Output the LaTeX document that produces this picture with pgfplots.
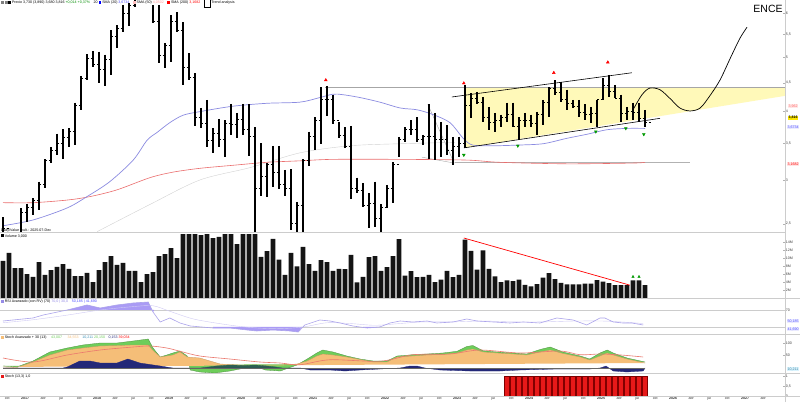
\documentclass[border=0pt]{standalone}
\usepackage{pgfplots}
\pgfplotsset{compat=1.18}
\usepackage{pgfplotstable}
\usepackage{fontspec}
\setmainfont{Liberation Sans}
\newcommand\tf{\fontsize{3.6}{4}\selectfont}
\definecolor{bandyellow}{RGB}{255,249,185}
\definecolor{maBlue}{RGB}{140,140,225}
\definecolor{maRed}{RGB}{235,110,110}
\definecolor{rsiLine}{RGB}{150,140,230}
\definecolor{rsiFill}{RGB}{170,155,245}
\definecolor{stGreen}{RGB}{110,205,90}
\definecolor{stOrange}{RGB}{245,190,120}
\definecolor{stNavy}{RGB}{35,40,120}
\definecolor{stTeal}{RGB}{45,95,80}
\definecolor{stRed}{RGB}{235,120,110}
\definecolor{sigRed}{RGB}{230,25,25}
\pgfdeclareplotmark{cltick}{\pgfpathmoveto{\pgfpoint{0pt}{0pt}}\pgfpathlineto{\pgfpoint{2.2pt}{0pt}}\pgfusepathqstroke}
\pgfdeclareplotmark{optick}{\pgfpathmoveto{\pgfpoint{-2.2pt}{0pt}}\pgfpathlineto{\pgfpoint{0pt}{0pt}}\pgfusepathqstroke}

\pgfplotstableread{
i hi lo cl
0 2.57 2.41 2.45
1 2.38 2.25 2.32
2 2.38 2.25 2.36
3 2.67 2.41 2.62
4 2.72 2.52 2.68
5 2.78 2.59 2.76
6 2.98 2.65 2.95
7 3.27 2.90 3.25
8 3.44 3.22 3.40
9 3.64 3.33 3.49
10 3.71 3.27 3.58
11 3.72 3.44 3.68
12 4.14 3.47 4.10
13 4.63 4.02 4.58
14 5.07 4.55 4.97
15 5.14 4.80 4.85
16 5.12 4.50 4.75
17 5.06 4.44 4.95
18 5.60 4.65 5.46
19 5.72 5.20 5.65
20 6.22 5.56 6.00
21 6.27 5.70 6.20
22 6.50 6.17 6.45
23 6.90 6.40 6.70
24 7.00 6.45 6.50
25 6.22 5.77 5.80
26 6.22 4.89 5.05
27 5.31 4.78 5.25
28 5.96 4.91 5.80
29 6.04 5.56 5.60
30 5.79 4.46 4.80
31 5.09 4.55 4.60
32 4.68 3.76 3.90
33 4.05 3.73 3.80
34 4.19 3.44 3.54
35 3.72 3.36 3.65
36 3.87 3.44 3.55
37 3.85 3.30 3.80
38 4.12 3.62 3.78
39 3.97 3.58 3.87
40 4.12 3.62 3.70
41 4.11 3.32 3.60
42 3.74 2.34 2.90
43 3.50 2.81 3.05
44 3.22 2.80 3.20
45 3.46 2.92 3.10
46 3.46 2.89 2.95
47 3.13 2.81 2.90
48 3.14 2.44 2.50
49 2.74 2.41 2.70
50 3.27 2.41 3.25
51 3.67 3.18 3.60
52 3.90 3.40 3.85
53 4.42 3.49 4.20
54 4.44 3.92 4.20
55 4.28 3.79 3.85
56 3.82 3.57 3.62
57 3.74 3.43 3.45
58 3.76 2.77 2.90
59 3.03 2.84 2.87
60 2.96 2.68 2.70
61 2.84 2.46 2.72
62 2.98 2.47 2.56
63 2.71 2.42 2.68
64 2.94 2.67 2.90
65 3.23 2.73 3.20
66 3.59 3.30 3.55
67 3.74 3.51 3.70
68 3.85 3.62 3.70
69 3.90 3.51 3.55
70 3.62 3.47 3.60
71 4.11 3.28 3.60
72 3.97 3.26 3.55
73 3.82 3.30 3.55
74 3.77 3.33 3.40
75 3.59 3.20 3.45
76 3.59 3.30 3.50
77 4.46 3.43 4.10
78 4.31 3.88 4.22
79 4.33 4.11 4.15
80 4.24 3.82 3.90
81 4.07 3.70 3.82
82 3.97 3.67 3.84
83 3.94 3.74 3.90
84 4.14 3.82 3.95
85 4.14 3.74 3.75
86 3.90 3.54 3.85
87 3.97 3.74 3.85
88 3.94 3.74 3.80
89 3.99 3.62 3.95
90 4.19 3.78 4.15
91 4.42 3.90 4.40
92 4.55 4.28 4.33
93 4.51 4.16 4.20
94 4.37 4.02 4.12
95 4.19 4.05 4.07
96 4.19 3.90 3.98
97 4.11 3.85 3.94
98 4.07 3.80 3.96
99 4.19 3.74 4.19
100 4.59 4.19 4.45
101 4.65 4.24 4.34
102 4.46 4.22 4.22
103 4.28 3.82 3.96
104 4.07 3.85 4.00
105 4.14 3.85 3.98
106 4.14 3.82 3.88
107 4.02 3.74 3.82
}\ohlc

\pgfplotstableread{
i v
0 9.3
1 11.3
2 7.5
3 7.5
4 6
5 5.3
6 9
7 5.8
8 7
9 7.8
10 8.5
11 7.3
12 5.5
13 5.5
14 6.3
15 4
16 7
17 9
18 10.5
19 8.3
20 8.8
21 6.8
22 6.8
23 4
24 6
25 6.5
26 10.5
27 11
28 12.5
29 10
30 20
31 20
32 20
33 15.7
34 20
35 15
36 15.3
37 20
38 20
39 13.5
40 20
41 20
42 20
43 10.3
44 11.7
45 14.8
46 9.6
47 5.8
48 11.3
49 7.9
50 12.8
51 8.5
52 6.8
53 9.5
54 9
55 6.8
56 7.3
57 7.2
58 10.8
59 3.9
60 5.3
61 10.2
62 10.5
63 6.8
64 7.7
65 10.5
66 14.7
67 5.6
68 6.7
69 5.2
70 5.3
71 5.8
72 4
73 4.6
74 6.8
75 5.2
76 5.8
77 14.6
78 11.8
79 7.1
80 11.9
81 7.3
82 5.4
83 4
84 4.4
85 4.2
86 4.6
87 3.3
88 2.9
89 3.5
90 5.1
91 6.2
92 4.7
93 3.8
94 3.4
95 3.4
96 3.4
97 3.6
98 3.6
99 4.5
100 4.1
101 3.7
102 3.2
103 3.2
104 3.2
105 4.4
106 4.4
107 3.2
}\vol

\pgfplotstableread{
i v
0 44.1
5 51.2
6.7 58.2
10.7 70
14 81.8
16.2 74.7
19 81.8
21.7 86.5
24.2 88.8
25 65.3
26.2 41.8
27.8 51.2
29.5 39.4
31.2 32.4
35 27.6
37.8 27.6
40.7 22.9
42.3 20.6
45 22.9
47.8 20.6
49.2 18.2
50.3 34.7
52.8 46.5
54.5 44.1
56.2 39.4
58.3 32.4
60.7 27.6
62.8 30
64.5 39.4
66.2 44.1
68.3 41.8
70.7 44.1
72.3 39.4
75 41.8
77.3 48.8
79 44.1
81.7 41.8
84.5 39.4
86.7 41.8
89.5 39.4
92.3 51.2
95 46.5
97.3 34.7
99.5 51.2
100.3 51.2
101.7 41.8
103.3 39.4
104.8 39.4
106.7 34.7
}\rsi

\pgfplotstableread{
i v
0 40
5 47
10.7 58
16.2 70
21.7 78
25 80
28 66
32 48
38 34
42 28
46 26
50 30
54 40
58 38
62 34
66 38
70 42
75 42
80 44
85 42
90 42
95 44
100 44
104 41
106.7 38
}\rsisig

\pgfplotstableread{
i v
0 8
2.3 4
5 28
7.8 64
10.7 80
13.3 92
16.2 100
19 100
21.7 108
24.2 116
25 80
26.2 44
27.3 52
28.3 60
29.5 68
30.7 48
31.2 -8
32.8 -16
35.3 -20
37.8 -12
40.3 0
42 8
43.7 -8
46.2 -12
49 12
50.7 36
52.3 60
53.3 72
55 64
57.3 48
59.5 36
61.7 28
64 28
65.7 48
68.3 53
70.7 56
73.3 60
75.7 67
77.3 86
78.3 90
80 69
82.3 64
85 60
87.3 56
89.5 74
91.2 84
93.3 64
96.2 48
97.8 36
99.5 60
100.7 72
101.7 60
104 40
107 24
}\stG

\pgfplotstableread{
i v
0 4
2.3 2
5 24
7.8 52
10.7 72
13.3 80
16.2 88
19 90
21.7 92
24.2 92
25 70
26.2 44
27.3 48
28.3 52
29.5 64
30.7 44
32.8 40
36.2 16
39.5 12
42.8 12
46.2 12
49 16
50.7 28
52.3 48
53.3 56
55 52
57.3 44
59.5 34
61.7 24
64 24
65.7 44
68.3 48
70.7 52
73.3 54
75.7 60
77.3 72
78.3 76
80 64
82.3 60
85 56
87.3 52
89.5 64
91.2 72
93.3 58
96.2 44
97.8 32
99.5 48
100.7 60
101.7 52
104 36
107 20
}\stO

\pgfplotstableread{
i v
33 0
35.5 8
37.8 12
40.3 10
42 12
44 8
45.5 4
46.5 0
}\stT

\pgfplotstableread{
i v
0 0
10 0
10.7 4
12.8 28
14.5 28
16.2 20
19 20
20.8 36
22.8 20
26.2 8
28.3 0
49.5 0
51.2 -8
54.5 -8
57 -12
59.5 -8
62.8 -4
66.2 0
67.8 8
69 8
70.3 0
72.8 -8
77.8 -12
82.8 -12
86.2 -8
92.3 -4
97.8 -4
99.5 0
100.5 8
101.7 -12
104 -16
106.7 -12
107 0
}\stN

\pgfplotstableread{
i v
0 40
5 24
10.7 52
16.2 72
21.7 84
24.5 88
27.3 80
29.5 67
32.8 48
37.8 36
42.8 24
46.2 20
49.5 13
54.5 33
62.8 27
68.3 53
74.5 56
79.5 72
86.2 60
92.8 68
96.2 53
99.5 56
103 52
106.7 44
}\stR

\pgfplotsset{panel/.style={scale only axis, width=785pt, xmin=-0.5, xmax=130.333,
  axis line style={draw=none}, xtick=\empty, ytick pos=right, yticklabel pos=right,
  tick style={gray!60, line width=0.3pt}, major tick length=2pt,
  yticklabel style={font=\tf, inner sep=0.6pt, text=black!75},
  /pgf/number format/assume math mode=true}}

\begin{document}
\begin{tikzpicture}
\fill[white] (0pt,0pt) rectangle (800pt,402pt);
\path[use as bounding box] (0pt,0pt) rectangle (800pt,402pt);

% ---------------- volume panel
\begin{axis}[panel, at={(0pt,104pt)}, anchor=south west, height=64pt, ymin=0, ymax=16,
  ytick={2,4,6,8,10,12,14}, yticklabels={2M,4M,6M,8M,10M,12M,14M}]
\addplot[ybar, bar width=4.9pt, fill=black!92, draw=none] table[x=i, y=v] {\vol};
\addplot[red, line width=0.7pt] coordinates {(76.8,15) (104.5,3.2)};
\addplot[only marks, mark=triangle*, mark size=1.4pt, color=green!60!black] coordinates {(105,5.3) (106,5.3)};
\end{axis}

% ---------------- RSI panel
\begin{axis}[panel, at={(0pt,68pt)}, anchor=south west, height=35pt, ymin=13.5, ymax=95.9,
  ytick={70}]
\addplot[gray!40, line width=0.3pt] coordinates {(-0.5,70) (130.33,70)};
\addplot[gray!40, line width=0.3pt] coordinates {(-0.5,30) (130.33,30)};
\addplot[fill=rsiFill, draw=none] coordinates {(10.7,70) (14,81.8) (16.2,74.7) (19,81.8) (21.7,86.5) (24.2,88.8) (25,65.3) (25.2,70)};
\addplot[fill=rsiFill, draw=none] coordinates {(35,30) (35,27.6) (37.8,27.6) (40.7,22.9) (42.3,20.6) (45,22.9) (47.8,20.6) (49.2,18.2) (49.8,30)};
\addplot[fill=rsiFill, draw=none] coordinates {(60,30) (60.7,27.6) (62.8,30)};
\addplot[rsiLine!45, line width=0.4pt, smooth] table[x=i, y=v] {\rsisig};
\addplot[rsiLine!80, line width=0.6pt] table[x=i, y=v] {\rsi};
\end{axis}

% ---------------- Stochastic panel
\begin{axis}[panel, at={(0pt,29pt)}, anchor=south west, height=38pt, ymin=-20, ymax=132,
  ytick={50,100}]
\addplot[fill=stGreen, draw=stGreen!70!black, line width=0.3pt] table[x=i, y=v] {\stG};
\addplot[fill=stOrange, draw=stOrange!80!black, line width=0.3pt] table[x=i, y=v] {\stO};
\addplot[fill=stTeal, draw=stTeal, line width=0.3pt] table[x=i, y=v] {\stT};
\addplot[fill=stNavy, draw=stNavy, line width=0.3pt] table[x=i, y=v] {\stN};
\addplot[stRed, line width=0.6pt, smooth] table[x=i, y=v] {\stR};
\addplot[black!60, line width=0.3pt] coordinates {(0,0) (107,0)};
\end{axis}

% ---------------- signal panel
\begin{axis}[panel, at={(0pt,6pt)}, anchor=south west, height=22pt, ymin=0, ymax=1.1,
  ytick={0,0.5,1}, yticklabels={0,{0,5},1},
  xtick={0.7,3.7,...,126.7}, x tick style={draw=none},
  xticklabel style={font=\tf, inner sep=0.6pt, text=black!80},
  xticklabels={oct,\textbf{2017},abr,jul,oct,\textbf{2018},abr,jul,oct,\textbf{2019},abr,jul,oct,\textbf{2020},abr,jul,oct,\textbf{2021},abr,jul,oct,\textbf{2022},abr,jul,oct,\textbf{2023},abr,jul,oct,\textbf{2024},abr,jul,oct,\textbf{2025},abr,jul,oct,\textbf{2026},abr,jul,oct,\textbf{2027},abr}]
\addplot[ybar, bar width=5pt, fill=sigRed, draw=red!50!black, line width=0.3pt] coordinates {(84,1) (85,1) (86,1) (87,1) (88,1) (89,1) (90,1) (91,1) (92,1) (93,1) (94,1) (95,1) (96,1) (97,1) (98,1) (99,1) (100,1) (101,1) (102,1) (103,1) (104,1) (105,1) (106,1) (107,1)};
\end{axis}

% ---------------- price panel (axis linear in ln(price))
\begin{axis}[panel, at={(0pt,170pt)}, anchor=south west, height=232pt,
  y coord trafo/.code={\pgfmathparse{ln(#1)}},
  y coord inv trafo/.code={\pgfmathparse{exp(#1)}},
  ymin=2.416, ymax=6.351, ytick={2.5,3,3.5,4,4.5,5,5.5,6},
  yticklabels={{2,5},3,{3,5},4,{4,5},5,{5,5},6}]
\addplot[fill=bandyellow, draw=none] coordinates {(76.8,4.41) (130.33,4.41) (130.33,4.26) (76.8,3.43) (76.8,4.41)};
\addplot[gray!70, line width=0.4pt] coordinates {(53.7,4.41) (130.33,4.41)};
\addplot[gray!60, line width=0.4pt] coordinates {(75.3,3.23) (114.5,3.23)};
\addplot[gray!70, line width=0.4pt] coordinates {(70.8,4.11) (75.2,3.22)};
\addplot[gray!70, line width=0.4pt] coordinates {(69.8,3.30) (75.2,3.22)};
\addplot[gray!35, line width=0.4pt, smooth] coordinates {(15.7,2.42) (24.5,2.71) (32.8,3.00) (41.2,3.16) (49.5,3.36) (57.8,3.46) (66.2,3.49) (75.3,3.51)};
\addplot[maRed, line width=0.6pt, smooth] coordinates {(0,2.73) (5,2.73) (10.7,2.76) (14.5,2.80) (19,2.88) (24.5,3.03) (28.3,3.10) (32.8,3.15) (38.3,3.19) (44,3.23) (49.5,3.25) (55,3.27) (66.2,3.27) (77.3,3.26) (82.8,3.23) (94,3.21) (105,3.22) (107,3.23)};
\addplot[maBlue, line width=0.7pt, smooth] coordinates {(0,2.48) (5,2.54) (10.67,2.67) (14,2.80) (17.8,2.98) (21.7,3.26) (24,3.54) (25.7,3.66) (27.8,3.81) (30,3.93) (32.8,3.99) (38.3,4.08) (44,4.13) (49.5,4.15) (52.8,4.23) (55,4.29) (56.7,4.28) (59.5,4.23) (62.8,4.15) (66.2,4.05) (69,4.02) (71.7,3.94) (74.5,3.81) (76.7,3.57) (78.3,3.47) (81.7,3.46) (85.7,3.47) (90,3.49) (94,3.57) (97.3,3.63) (100.7,3.70) (104,3.72) (107,3.72)};
\pgfplotsinvokeforeach{0,...,107}{%
  \pgfplotstablegetelem{#1}{hi}\of\ohlc \let\myhi\pgfplotsretval
  \pgfplotstablegetelem{#1}{lo}\of\ohlc \let\mylo\pgfplotsretval
  \edef\mytmp{\noexpand\addplot[black, line width=1.2pt, forget plot] coordinates {(#1,\myhi) (#1,\mylo)};}%
  \mytmp
}
\addplot[black, only marks, mark=cltick, mark options={line width=0.8pt}] table[x=i, y=cl] {\ohlc};
\addplot[black, only marks, mark=optick, mark options={line width=0.8pt}] table[x expr=\thisrow{i}+1, y=cl] {\ohlc};
\addplot[black, line width=0.6pt] coordinates {(74.8,4.24) (104.8,4.69)};
\addplot[black, line width=0.6pt] coordinates {(76.8,3.43) (109.5,3.88)};
\addplot[black, line width=0.7pt, smooth] coordinates {(105,4.02) (106.5,4.28) (107.8,4.40) (109.5,4.37) (111.2,4.21) (112.8,4.05) (114.5,4.00) (116.2,4.05) (117.8,4.26) (119.5,4.55) (121.2,4.98) (122.8,5.41) (124,5.67)};
\addplot[only marks, mark=triangle*, mark size=1.6pt, color=red] coordinates {(53.8,4.55) (76.8,4.49) (91.8,4.69) (100.8,4.90)};
\addplot[only marks, mark=triangle*, mark size=1.6pt, color=green!60!black, mark options={rotate=180}] coordinates {(76.8,3.33) (85.8,3.46) (98.8,3.67) (103.8,3.72) (106.8,3.63)};
\end{axis}

% separators
\draw[gray!40, line width=0.4pt] (0pt,169.5pt) -- (785pt,169.5pt);
\draw[gray!40, line width=0.4pt] (0pt,103.5pt) -- (800pt,103.5pt);
\draw[gray!40, line width=0.4pt] (0pt,67.5pt) -- (800pt,67.5pt);
\draw[gray!40, line width=0.4pt] (0pt,29pt) -- (800pt,29pt);
\draw[gray!40, line width=0.4pt] (0pt,6pt) -- (800pt,6pt);
\draw[gray!40, line width=0.4pt] (785pt,0pt) -- (785pt,402pt);

\node[font=\fontsize{10.5}{12}\selectfont, anchor=center] at (768pt,393pt) {ENCE};

\node[anchor=west, inner sep=0pt, font=\tf] at (1pt,399pt) {\textcolor{gray}{\rule{3pt}{3pt}}\,\textcolor{gray}{\rule{3pt}{3pt}}\,\textcolor{black}{\rule{2.6pt}{2.6pt}} Precio 3,730 (3,890) 3,680 3,816 \textcolor{green!55!black}{+0,014 +0,37\%}\quad 20 \textcolor{blue}{\rule{2.6pt}{2.6pt}} SMA (20) \textcolor{blue!70}{3,6734}\quad \textcolor{pink}{\rule{2.6pt}{2.6pt}} SMA (50) \textcolor{pink!80!red}{4,0502}\quad \textcolor{red}{\rule{2.6pt}{2.6pt}} SMA (200) \textcolor{red}{3,1682}\quad \fbox{\rule{0pt}{1.5pt}}\,Trend analysis};
\node[anchor=west, inner sep=0pt, font=\tf] at (1pt,171pt) {Daily/Value mult.: 2025-07-Dec};
\node[anchor=west, inner sep=0pt, font=\tf] at (1pt,166pt) {\rule{2.6pt}{2.6pt} Volume 3,000};
\node[anchor=west, inner sep=0pt, font=\tf] at (1pt,100pt) {\textcolor{rsiLine}{\rule{2.6pt}{2.6pt}} RSI Avanzado (con RV) (70) \textcolor{rsiLine}{70,0 | 30,0}\quad \textcolor{blue!70}{50,185 | 41,690}};
\node[anchor=west, inner sep=0pt, font=\tf] at (1pt,64pt) {\textcolor{stOrange}{\rule{2.6pt}{2.6pt}} Stoch Avanzado + 30 (13) \textcolor{stGreen}{\quad 43,007 \quad} \textcolor{stOrange}{34,553}\quad \textcolor{cyan!70!black}{10,211} \textcolor{stGreen}{20,150}\quad \textcolor{stNavy}{0,153} \textcolor{red}{39,034}};
\node[anchor=west, inner sep=0pt, font=\tf] at (1pt,25pt) {\textcolor{sigRed}{\rule{2.6pt}{2.6pt}} Stoch (13,3) 1,0};

\node[font=\tf, fill=pink!35, inner sep=0.4pt, text=red!60] at (793pt,296pt) {3,962};
\node[font=\tf\bfseries, fill=yellow!90!orange, inner sep=0.6pt] at (793pt,284pt) {3,816};
\node[font=\tf, fill=blue!8, inner sep=0.4pt, text=blue!70] at (793pt,275pt) {3,6734};
\node[font=\tf, fill=red!10, inner sep=0.4pt, text=red] at (793pt,238pt) {3,1682};
\node[font=\tf, fill=blue!8, inner sep=0.4pt, text=blue!70] at (793pt,81pt) {50,185};
\node[font=\tf, fill=blue!8, inner sep=0.4pt, text=blue!70] at (793pt,73pt) {41,690};
\node[font=\tf, fill=cyan!15, inner sep=0.4pt, text=cyan!60!black] at (793pt,33pt) {10,211};
\end{tikzpicture}
\end{document}
